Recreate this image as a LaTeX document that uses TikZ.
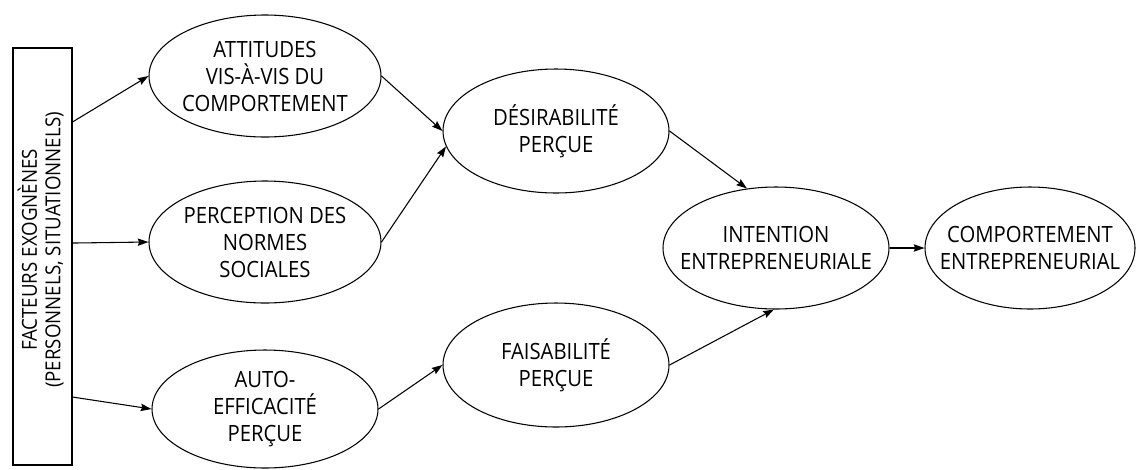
\documentclass[tikz,border=0pt]{standalone}
\usepackage{fontspec}
\setmainfont{Open Sans}[FakeStretch=0.905]
\usetikzlibrary{shapes.geometric,arrows.meta,calc}
\begin{document}
\begin{tikzpicture}[x=0.75pt,y=-0.75pt,
  oval/.style={ellipse, draw, line width=0.8pt, inner sep=-40pt, align=center,
    font=\fontsize{16.8}{20.25}\selectfont},
  facbox/.style={draw, line width=0.8pt, inner sep=0pt, minimum width=44.25pt, minimum height=312.75pt,
    font=\fontsize{15.5}{17.5}\selectfont},
  arr/.style={-{Stealth[length=8pt,width=5.5pt,inset=1pt]}, line width=0.8pt}]
\useasboundingbox (0,0) rectangle (1137,469);

\node[facbox] (fac) at (42.5,256.5)
  {\raisebox{4.9pt}[\height][\depth]{\rotatebox{90}{\begin{tabular}{@{}c@{}}FACTEURS EXOGNÈNES\\(PERSONNELS, SITUATIONNELS)\end{tabular}}}};

\node[oval, minimum width=174pt, minimum height=91.5pt] (att) at (265,76)
  {ATTITUDES\\VIS-À-VIS DU\\COMPORTEMENT};
\node[oval, minimum width=174pt, minimum height=91.5pt] (perc) at (265,242)
  {PERCEPTION DES\\NORMES\\SOCIALES};
\node[oval, minimum width=169.5pt, minimum height=88.5pt] (auto) at (265,409)
  {AUTO-\\EFFICACITÉ\\PERÇUE};
\node[oval, minimum width=169.5pt, minimum height=93pt] (des) at (556,131)
  {DÉSIRABILITÉ\\PERÇUE};
\node[oval, minimum width=169.5pt, minimum height=93pt] (fai) at (556,365)
  {FAISABILITÉ\\PERÇUE};
\node[oval, minimum width=169.5pt, minimum height=91.5pt] (int) at (776,248)
  {INTENTION\\ENTREPRENEURIALE};
\node[oval, minimum width=157.5pt, minimum height=91.5pt] (comp) at (1030,248)
  {COMPORTEMENT\\ENTREPRENEURIAL};

\draw[arr] ([yshift=100.9pt]fac.east) -- (att.west);
\draw[arr] ([yshift=10.1pt]fac.east) -- (perc.west);
\draw[arr] ([yshift=-105.4pt]fac.east) -- (auto.west);
\draw[arr] (att.east) -- (des.west);
\draw[arr] (perc.east) -- (des.188);
\draw[arr] (auto.east) -- (fai.west);
\draw[arr] (des.east) -- (int.116);
\draw[arr] (fai.east) -- (int.268);
\draw[arr] (int.east) -- (comp.west);
\end{tikzpicture}
\end{document}
